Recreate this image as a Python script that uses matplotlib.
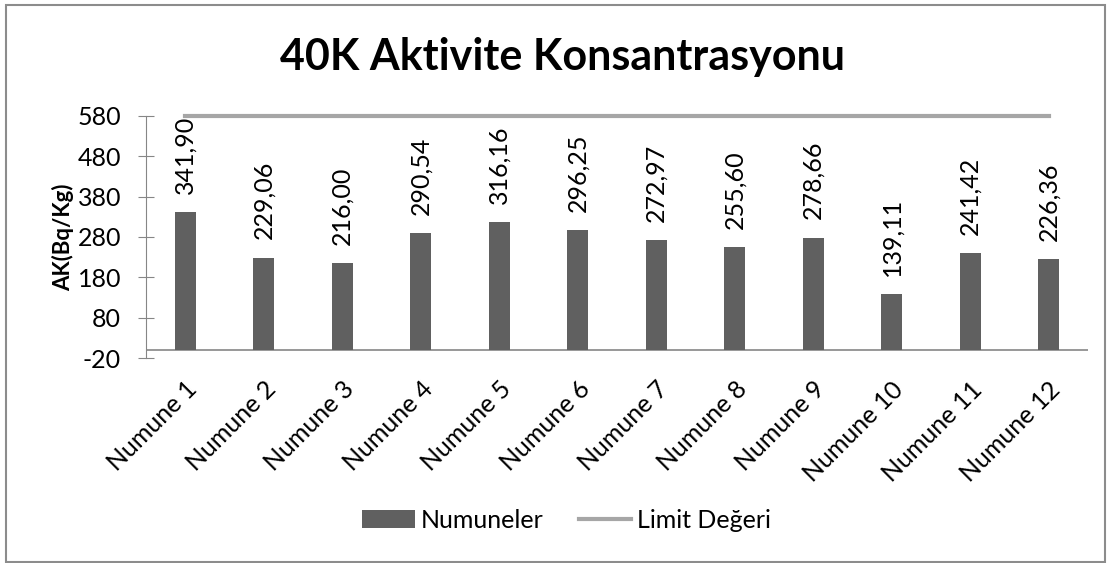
import numpy as np
import matplotlib
matplotlib.use("Agg")
import matplotlib.pyplot as plt
from matplotlib.patches import Rectangle

plt.rcParams['font.family'] = ['Lato', 'DejaVu Sans']
plt.rcParams['axes.unicode_minus'] = False

# data
samples = ['Numune %d' % i for i in range(1, 13)]
activity = [341.90, 229.06, 216.00, 290.54, 316.16, 296.25,
            272.97, 255.60, 278.66, 139.11, 241.42, 226.36]
limit = [580] * 12
yticks = [-20, 80, 180, 280, 380, 480, 580]

bar_color = '#606060'
limit_color = '#A6A6A6'
axis_color = '#868686'

fig = plt.figure(figsize=(11.11, 5.63), dpi=100)
ax = fig.add_axes([146/1111, 1-358/563, (1088-146)/1111, (358-116)/563])

x = np.arange(len(samples))
bars = ax.bar(x, activity, width=0.27, color=bar_color, zorder=2)
line, = ax.plot(x, limit, color=limit_color, lw=3, clip_on=False, zorder=3)
ax.axhline(0, color=axis_color, lw=1.2, zorder=1)

for xi, v in zip(x, activity):
    ax.annotate(('%.2f' % v).replace('.', ','), (xi, v),
                xytext=(0, 13), textcoords='offset points',
                rotation=90, ha='center', va='bottom', fontsize=18)

ax.set_xlim(-0.5, len(samples) - 0.5)
ax.set_ylim(-20, 580)
ax.set_yticks(yticks)
ax.tick_params(axis='y', direction='inout', length=12, color=axis_color,
               labelsize=18, pad=12)
ax.set_xticks(x)
ax.set_xticklabels(samples, rotation=45, ha='right', rotation_mode='anchor',
                   fontsize=18)
ax.tick_params(axis='x', length=0, pad=14)
for s in ['top', 'right', 'bottom']:
    ax.spines[s].set_visible(False)
ax.spines['left'].set_color(axis_color)
ax.set_ylabel('AK(Bq/Kg)', fontsize=16, fontweight='bold', labelpad=2)

fig.suptitle('40K Aktivite Konsantrasyonu', fontsize=31, fontweight='bold',
             x=0.506, y=1-57/563, va='center')

fig.legend([bars, line], ['Numuneler', 'Limit Değeri'], loc='center',
           bbox_to_anchor=(0.51, 1-520/563), ncol=2, frameon=False,
           fontsize=18, handlelength=2.1, columnspacing=1.4,
           handletextpad=0.25)

fig.patches.append(Rectangle((6/1111, 1-562/563), 1099/1111, 557/563,
                             transform=fig.transFigure, fill=False,
                             edgecolor='#8C8C8C', lw=1.5))

fig.savefig('out.png', dpi=100)
